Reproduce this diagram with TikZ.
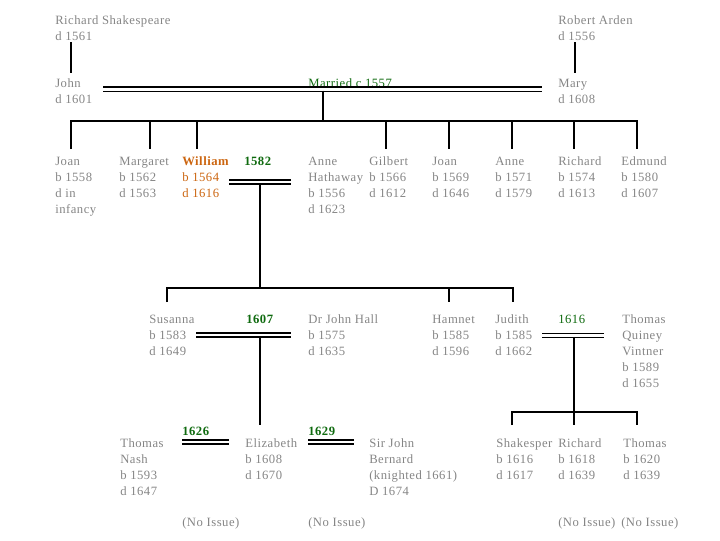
\documentclass[tikz,border=0pt]{standalone}
\usepackage{fontspec}
\setmainfont{Liberation Serif}[LetterSpace=4]
\definecolor{gr}{HTML}{858585}
\definecolor{grn}{HTML}{0F6A0F}
\definecolor{org}{HTML}{CC6611}
\newcommand{\ppfont}{\fontsize{9.5}{12}\selectfont}
\tikzset{
  pp/.style={anchor=north west, inner sep=0pt, align=left, font=\ppfont, text=gr},
  yr/.style={anchor=north west, inner sep=0pt, font=\ppfont\bfseries, text=grn},
  ln/.style={line width=1.2pt, draw=black},
  thin/.style={line width=0.9pt, draw=black},
  dbl/.style={draw=black, line width=1pt, double=white, double distance=2.2pt},
}
\begin{document}
\begin{tikzpicture}[x=0.75pt,y=-0.75pt]
\useasboundingbox (0,0) rectangle (720,540);
% generation 1
\node[pp] (rs) at (55,15.5) {Richard Shakespeare\\d 1561};
\node[pp] (ra) at (558,15.5) {Robert Arden\\d 1556};
\node[pp] (john) at (55,78.5) {John\\d 1601};
\node[pp] (mary) at (558,78.5) {Mary\\d 1608};
\node[pp, text=grn] (m1) at (308,78.5) {Married c 1557};
% generation 2
\node[pp] (joan1) at (55,156.5) {Joan\\b 1558\\d in\\infancy};
\node[pp] (marg) at (119,156.5) {Margaret\\b 1562\\d 1563};
\node[pp, text=org] (will) at (182,156.5) {\textbf{William}\\b 1564\\d 1616};
\node[yr] (y1582) at (244,156.5) {1582};
\node[pp] (anne) at (308,156.5) {Anne\\Hathaway\\b 1556\\d 1623};
\node[pp] (gil) at (369,156.5) {Gilbert\\b 1566\\d 1612};
\node[pp] (joan2) at (432,156.5) {Joan\\b 1569\\d 1646};
\node[pp] (anne2) at (495,156.5) {Anne\\b 1571\\d 1579};
\node[pp] (rich) at (558,156.5) {Richard\\b 1574\\d 1613};
\node[pp] (edm) at (621,156.5) {Edmund\\b 1580\\d 1607};
% generation 3
\node[pp] (sus) at (149,314.5) {Susanna\\b 1583\\d 1649};
\node[yr] (y1607) at (246,314.5) {1607};
\node[pp] (hall) at (308,314.5) {Dr John Hall\\b 1575\\d 1635};
\node[pp] (ham) at (432,314.5) {Hamnet\\b 1585\\d 1596};
\node[pp] (jud) at (495,314.5) {Judith\\b 1585\\d 1662};
\node[yr, font=\ppfont] (y1616) at (558,314.5) {1616};
\node[pp] (quin) at (622,314.5) {Thomas\\Quiney\\Vintner\\b 1589\\d 1655};
% generation 4
\node[pp] (nash) at (120,438.5) {Thomas\\Nash\\b 1593\\d 1647};
\node[yr] (y1626) at (182,426.5) {1626};
\node[pp] (eliz) at (245,438.5) {Elizabeth\\b 1608\\d 1670};
\node[yr] (y1629) at (308,426.5) {1629};
\node[pp] (bern) at (369,438.5) {Sir John\\Bernard\\(knighted 1661)\\D 1674};
\node[pp] (shak) at (496,438.5) {Shakesper\\b 1616\\d 1617};
\node[pp] (rich2) at (558,438.5) {Richard\\b 1618\\d 1639};
\node[pp] (tho) at (623,438.5) {Thomas\\b 1620\\d 1639};
\node[pp] (ni1) at (182,517.5) {(No Issue)};
\node[pp] (ni2) at (308,517.5) {(No Issue)};
\node[pp] (ni3) at (558,517.5) {(No Issue)};
\node[pp] (ni4) at (621,517.5) {(No Issue)};
% connectors
\draw[ln] (71,42) -- (71,73);
\draw[ln] (575,42) -- (575,73);
\draw[dbl] (103,89.2) -- (542,89.2);
\draw[ln] (323,90.5) -- (323,121);
\draw[thin] (71,149) -- (71,121) -- (637,121) -- (637,149);
\foreach \x in {150,197,386,449,512,574} \draw[ln] (\x,121) -- (\x,149);
\draw[dbl] (229,182) -- (291,182);
\draw[ln] (260,183.3) -- (260,288);
\draw[ln] (167,302) -- (167,288) -- (513,288) -- (513,302);
\draw[ln] (449,288) -- (449,302);
\draw[dbl] (196,335) -- (291,335);
\draw[ln] (260,336.3) -- (260,425);
\draw[dbl] (542,335.5) -- (604,335.5);
\draw[ln] (574,336.8) -- (574,412);
\draw[ln] (512,425) -- (512,412) -- (637,412) -- (637,425);
\draw[ln] (574,412) -- (574,425);
\draw[dbl] (182,442) -- (229,442);
\draw[dbl] (308,442) -- (354,442);
\end{tikzpicture}
\end{document}
